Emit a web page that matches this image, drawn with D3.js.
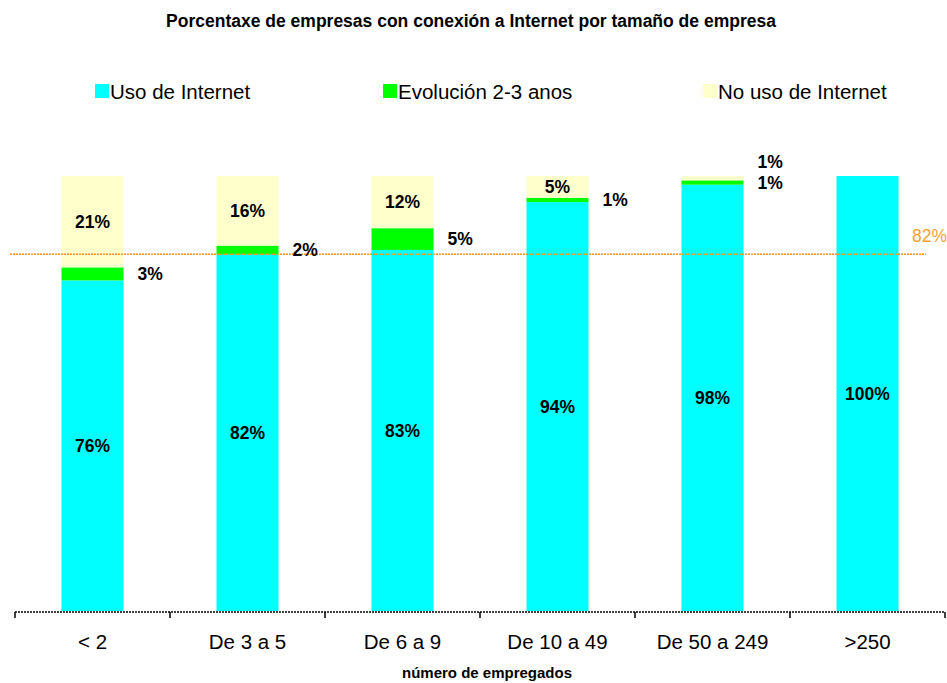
<!DOCTYPE html>
<html>
<head>
<meta charset="utf-8">
<script src="https://cdn.jsdelivr.net/npm/d3@7"></script>
<style>
  body { margin: 0; background: #fff; }
  text { font-family: Arial, "Liberation Sans", sans-serif; }
</style>
</head>
<body>
<div id="chart"></div>
<script>
// data
const categories = ['< 2', 'De 3 a 5', 'De 6 a 9', 'De 10 a 49', 'De 50 a 249', '>250'];
const usoInternet = [76, 82, 83, 94, 98, 100];
const evolucion = [3, 2, 5, 1, 1, 0];
const noUso = [21, 16, 12, 5, 1, 0];
const seriesNames = ['Uso de Internet', 'Evolución 2-3 anos', 'No uso de Internet'];
const refValue = 82;

const width = 947;
const height = 683;
const colors = ['#00ffff', '#00ff00', '#ffffcc'];

const svg = d3.select('#chart')
  .append('svg')
  .attr('width', width)
  .attr('height', height);

const x = d3.scaleBand()
  .domain(categories)
  .range([15, 945])
  .paddingInner(0.6)
  .paddingOuter(0.3);

const y = d3.scaleLinear()
  .domain([0, 100])
  .range([611, 176]);

// stack the three series
const rows = categories.map((c, i) => ({
  cat: c, uso: usoInternet[i], evo: evolucion[i], no: noUso[i]
}));
const stacked = d3.stack().keys(['uso', 'evo', 'no'])(rows);

const layers = svg.append('g')
  .selectAll('g')
  .data(stacked)
  .enter()
  .append('g')
  .attr('fill', (d, i) => colors[i]);

layers.selectAll('rect')
  .data(d => d)
  .enter()
  .append('rect')
  .attr('x', d => x(d.data.cat))
  .attr('y', d => y(d[1]))
  .attr('width', x.bandwidth())
  .attr('height', d => y(d[0]) - y(d[1]));

// reference line
svg.append('line')
  .attr('x1', 10)
  .attr('x2', 926)
  .attr('y1', y(refValue))
  .attr('y2', y(refValue))
  .attr('stroke', '#f7931e')
  .attr('stroke-width', 1.5)
  .attr('stroke-dasharray', '2,1');

svg.append('text')
  .attr('x', 912)
  .attr('y', y(refValue) - 12)
  .attr('fill', '#f7a035')
  .style('font-size', '17.5px')
  .text(refValue + '%');

// value labels
const labels = svg.append('g')
  .style('font-size', '17.5px')
  .style('font-weight', 'bold')
  .attr('fill', '#000');

stacked.forEach((layer, k) => {
  layer.forEach((d, i) => {
    const v = d[1] - d[0];
    if (v === 0) return;
    const cx = x(d.data.cat) + x.bandwidth() / 2;
    const cy = (y(d[0]) + y(d[1])) / 2;
    if (k === 1 || (k === 2 && v < 3)) {
      // thin segments get their label beside the bar
      let ly = cy;
      if (k === 2) ly = cy - 16;
      labels.append('text')
        .attr('x', x(d.data.cat) + x.bandwidth() + 14)
        .attr('y', ly)
        .attr('dy', '0.35em')
        .text(v + '%');
    } else {
      labels.append('text')
        .attr('x', cx)
        .attr('y', cy)
        .attr('dy', '0.35em')
        .attr('text-anchor', 'middle')
        .text(v + '%');
    }
  });
});

// x axis: dotted line, ticks at category boundaries
svg.append('line')
  .attr('x1', 15)
  .attr('x2', 945)
  .attr('y1', 612)
  .attr('y2', 612)
  .attr('stroke', '#000')
  .attr('stroke-width', 1.5)
  .attr('stroke-dasharray', '2,1');

const bounds = categories.map(c => x(c) - x.step() * 0.3).concat([945]);
svg.append('g')
  .selectAll('line')
  .data(bounds)
  .enter()
  .append('line')
  .attr('x1', d => d)
  .attr('x2', d => d)
  .attr('y1', 612)
  .attr('y2', 618)
  .attr('stroke', '#000')
  .attr('stroke-width', 1.5);

const xAxis = svg.append('g')
  .attr('transform', 'translate(0,612)')
  .call(d3.axisBottom(x).tickSize(0).tickPadding(22));
xAxis.select('.domain').remove();
xAxis.selectAll('text')
  .style('font-size', '20.5px')
  .style('font-family', 'Arial, "Liberation Sans", sans-serif')
  .attr('fill', '#000');

svg.append('text')
  .attr('x', 487)
  .attr('y', 678)
  .attr('text-anchor', 'middle')
  .style('font-size', '15px')
  .style('font-weight', 'bold')
  .text('número de empregados');

// title
svg.append('text')
  .attr('x', 471)
  .attr('y', 27)
  .attr('text-anchor', 'middle')
  .style('font-size', '17.5px')
  .style('font-weight', 'bold')
  .text('Porcentaxe de empresas con conexión a Internet por tamaño de empresa');

// legend
const legendX = [95, 383, 703];
const legend = svg.append('g')
  .selectAll('g')
  .data(seriesNames)
  .enter()
  .append('g')
  .attr('transform', (d, i) => 'translate(' + legendX[i] + ',84)');

legend.append('rect')
  .attr('width', 14)
  .attr('height', 14)
  .attr('fill', (d, i) => colors[i]);

legend.append('text')
  .attr('x', 15)
  .attr('y', 15)
  .style('font-size', '20.5px')
  .text(d => d);
</script>
</body>
</html>
